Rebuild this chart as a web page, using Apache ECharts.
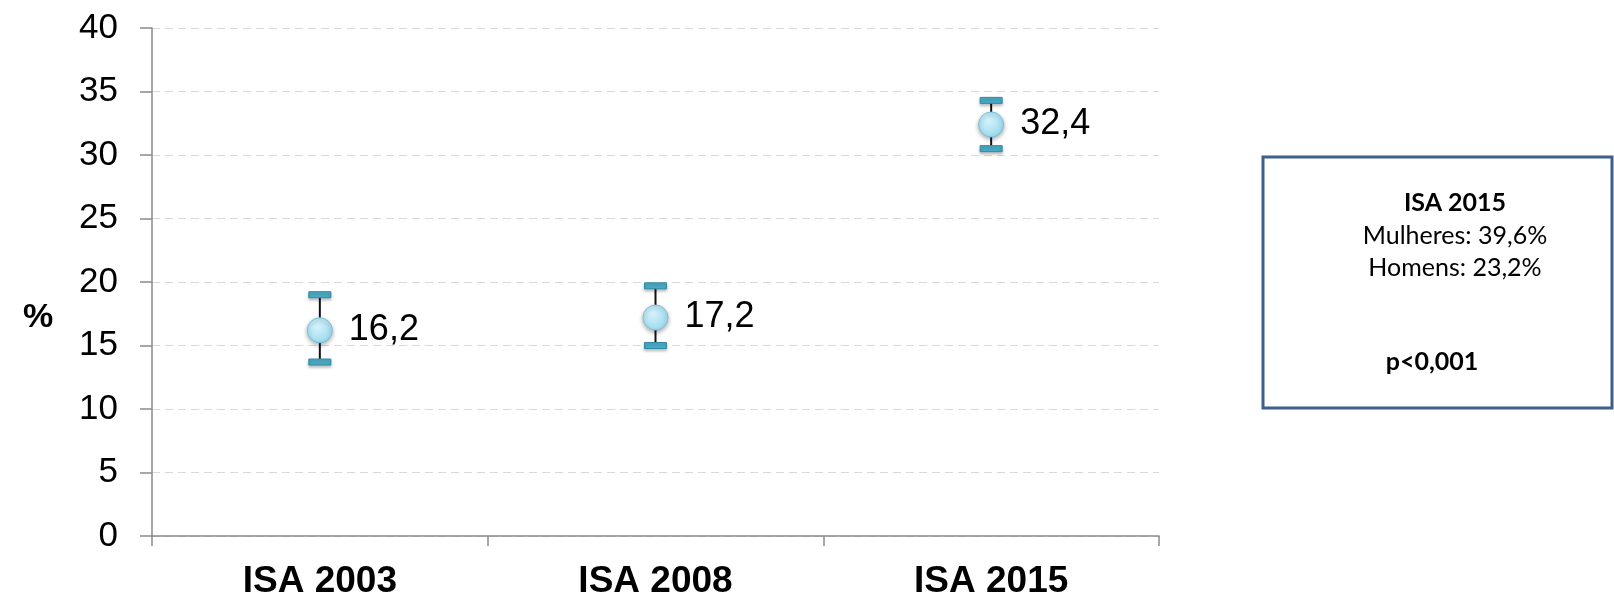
<!DOCTYPE html>
<html>
<head>
<meta charset="utf-8">
<script src="https://cdn.jsdelivr.net/npm/echarts@6/dist/echarts.min.js"></script>
<style>
  html, body { margin: 0; padding: 0; background: #fff; }
  #chart { width: 1614px; height: 600px; }
</style>
</head>
<body>
<div id="chart"></div>
<script>
// Survey editions shown on the x axis
const categories = ['ISA 2003', 'ISA 2008', 'ISA 2015'];
// Prevalence (%) and 95% confidence interval limits
const prevalence = [16.2, 17.2, 32.4];
const ciLower = [13.7, 15.0, 30.5];
const ciUpper = [19.0, 19.7, 34.3];
// Y axis scale
const yMin = 0, yMax = 40, yStep = 5;
// Text of the side note
const noteTitle = 'ISA 2015';
const noteLines = ['Mulheres: 39,6%', 'Homens: 23,2%'];
const noteTest = 'p<0,001';

const chart = echarts.init(document.getElementById('chart'));

const ciData = categories.map((c, i) => [i, ciLower[i], ciUpper[i]]);
const pointData = categories.map((c, i) => [i, prevalence[i]]);

const capFill = '#4bacc6';
const capStroke = '#2f8aa6';

// Confidence interval: vertical whisker with a small bar at each end
function renderCI(params, api) {
  const x = api.value(0);
  const lo = api.coord([x, api.value(1)]);
  const hi = api.coord([x, api.value(2)]);
  const capW = 22, capH = 6;
  const shadow = { shadowBlur: 3, shadowOffsetY: 2, shadowColor: 'rgba(0,0,0,0.25)' };
  return {
    type: 'group',
    children: [
      {
        type: 'line',
        shape: { x1: hi[0], y1: hi[1], x2: lo[0], y2: lo[1] },
        style: { stroke: '#111', lineWidth: 2 }
      },
      {
        type: 'rect',
        shape: { x: hi[0] - capW / 2, y: hi[1] - capH / 2, width: capW, height: capH },
        style: Object.assign({ fill: capFill, stroke: capStroke, lineWidth: 1 }, shadow)
      },
      {
        type: 'rect',
        shape: { x: lo[0] - capW / 2, y: lo[1] - capH / 2, width: capW, height: capH },
        style: Object.assign({ fill: capFill, stroke: capStroke, lineWidth: 1 }, shadow)
      }
    ]
  };
}

const noteFont = 'Lato, "Open Sans", sans-serif';
const noteCx = 1455;

function noteText(text, x, y, weight) {
  return {
    type: 'text',
    x: x, y: y,
    style: {
      text: text, fill: '#000', align: 'center', verticalAlign: 'middle',
      font: weight + ' 25px ' + noteFont
    }
  };
}

chart.setOption({
  animation: false,
  backgroundColor: '#ffffff',
  grid: { left: 152, right: 455, top: 28, bottom: 62, containLabel: false },
  xAxis: {
    type: 'category',
    data: categories,
    boundaryGap: true,
    axisLine: { lineStyle: { color: '#8a8a8a', width: 1.5 } },
    axisTick: { show: true, length: 10, lineStyle: { color: '#8a8a8a', width: 1.5 } },
    axisLabel: {
      margin: 27,
      color: '#000',
      fontFamily: '"Liberation Sans", Arial, sans-serif',
      fontWeight: 'bold',
      fontSize: 37
    },
    splitLine: { show: false }
  },
  yAxis: {
    type: 'value',
    min: yMin,
    max: yMax,
    interval: yStep,
    axisLine: { show: true, lineStyle: { color: '#8a8a8a', width: 1.5 } },
    axisTick: { show: true, length: 12, lineStyle: { color: '#8a8a8a', width: 1.5 } },
    axisLabel: {
      margin: 34,
      color: '#000',
      fontFamily: '"Liberation Sans", Arial, sans-serif',
      fontSize: 35
    },
    splitLine: { show: true, lineStyle: { color: '#d9d9d9', width: 1, type: [8, 5] } }
  },
  series: [
    {
      type: 'custom',
      name: 'IC95%',
      renderItem: renderCI,
      data: ciData,
      encode: { x: 0, y: [1, 2] },
      z: 2
    },
    {
      type: 'scatter',
      name: 'Prevalência',
      data: pointData,
      symbol: 'circle',
      symbolSize: 25,
      z: 3,
      itemStyle: {
        opacity: 1,
        color: new echarts.graphic.RadialGradient(0.4, 0.35, 0.7, [
          { offset: 0, color: '#d6f2fb' },
          { offset: 1, color: '#98d8ee' }
        ]),
        borderColor: '#78c2dc',
        borderWidth: 1,
        shadowBlur: 4,
        shadowOffsetY: 2,
        shadowColor: 'rgba(0,0,0,0.3)'
      },
      label: {
        show: true,
        position: 'right',
        distance: 16,
        color: '#000',
        opacity: 1,
        textBorderWidth: 0,
        fontFamily: '"Liberation Sans", Arial, sans-serif',
        fontSize: 36,
        formatter: p => p.value[1].toFixed(1).replace('.', ',')
      }
    }
  ],
  graphic: [
    {
      type: 'text',
      x: 38, y: 318,
      style: {
        text: '%', fill: '#000', align: 'center', verticalAlign: 'middle',
        font: 'bold 34px "Liberation Sans", Arial, sans-serif'
      }
    },
    {
      type: 'rect',
      shape: { x: 1263, y: 157, width: 349, height: 251 },
      style: { fill: '#ffffff', stroke: '#3e5f8a', lineWidth: 3 }
    },
    noteText(noteTitle, noteCx, 203, 'bold'),
    noteText(noteLines[0], noteCx, 236, 'normal'),
    noteText(noteLines[1], noteCx, 268, 'normal'),
    noteText(noteTest, 1432, 362, 'bold')
  ]
});
</script>
</body>
</html>
